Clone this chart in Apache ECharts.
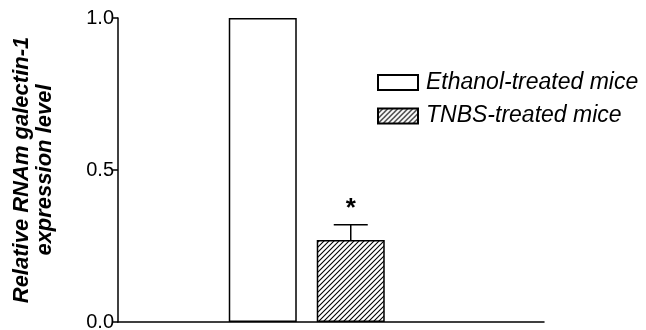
<!DOCTYPE html>
<html>
<head>
<meta charset="utf-8">
<script src="https://cdn.jsdelivr.net/npm/echarts@6/dist/echarts.min.js"></script>
<style>
  html, body { margin: 0; padding: 0; background: #fff; }
  #chart { width: 646px; height: 330px; }
</style>
</head>
<body>
<div id="chart"></div>
<script>
// Relative galectin-1 mRNA expression, ethanol vs TNBS treated mice
const groups = ['Ethanol-treated mice', 'TNBS-treated mice'];
const ethanolValue = [1.0];
const tnbsValue = [0.27];
const tnbsError = [0.05];
const significance = ['*'];
const yTicks = [0, 0.5, 1.0];

const FONT = '"Liberation Sans", Arial, sans-serif';

// diagonal hatch tile for the TNBS bar
function hatchPattern() {
  const s = 5;
  const c = document.createElement('canvas');
  c.width = s; c.height = s;
  const g = c.getContext('2d');
  g.fillStyle = '#fff';
  g.fillRect(0, 0, s, s);
  g.strokeStyle = '#000';
  g.lineWidth = 1.1;
  g.beginPath();
  g.moveTo(-1, s + 1); g.lineTo(s + 1, -1);
  g.moveTo(-1, 1); g.lineTo(1, -1);
  g.moveTo(s - 1, s + 1); g.lineTo(s + 1, s - 1);
  g.stroke();
  return c;
}
const hatch = { image: hatchPattern(), repeat: 'repeat' };

const chart = echarts.init(document.getElementById('chart'), null, { renderer: 'canvas' });

const legendText = { fontFamily: FONT, fontSize: 23, fontStyle: 'italic', color: '#000', lineHeight: 23, padding: [0, 0, 0, 3] };

const option = {
  backgroundColor: '#fff',
  animation: false,
  legend: [
    { data: [groups[0]], left: 377, top: 71, padding: 0, icon: 'rect', itemWidth: 40, itemHeight: 15, textStyle: legendText },
    { data: [groups[1]], left: 377, top: 104.5, padding: 0, icon: 'rect', itemWidth: 40, itemHeight: 15, textStyle: legendText }
  ],
  grid: [
    { left: 118, right: 102, top: 18, bottom: 8, outerBoundsMode: 'none', containLabel: false },
    { left: 118, right: 150.5, top: 18, bottom: 8, outerBoundsMode: 'none', containLabel: false }
  ],
  xAxis: [
    {
      gridIndex: 0, type: 'category', data: [''],
      axisLine: { lineStyle: { color: '#000', width: 1.5 } },
      axisTick: { show: false }, axisLabel: { show: false }, splitLine: { show: false }
    },
    { gridIndex: 1, type: 'category', data: ['group'], show: false }
  ],
  yAxis: [
    {
      gridIndex: 0, type: 'value', min: yTicks[0], max: yTicks[yTicks.length - 1], interval: 0.5,
      name: 'Relative RNAm galectin-1\nexpression level',
      nameLocation: 'middle', nameRotate: 90, nameGap: 62,
      nameTextStyle: { fontFamily: FONT, fontSize: 22, fontWeight: 'bold', fontStyle: 'italic', color: '#000', lineHeight: 23 },
      axisLine: { show: true, lineStyle: { color: '#000', width: 1.5 } },
      axisTick: { show: true, length: 5, lineStyle: { color: '#000', width: 1.5 } },
      axisLabel: { fontFamily: FONT, fontSize: 20, color: '#000', margin: 4, formatter: v => v.toFixed(1) },
      splitLine: { show: false }
    },
    { gridIndex: 1, type: 'value', min: yTicks[0], max: yTicks[yTicks.length - 1], show: false }
  ],
  series: [
    {
      name: groups[0], type: 'bar', xAxisIndex: 1, yAxisIndex: 1,
      data: ethanolValue, barWidth: 68, barGap: '29.4%',
      itemStyle: { color: '#fff', borderColor: '#000', borderWidth: 1.5 }
    },
    {
      name: groups[1], type: 'bar', xAxisIndex: 1, yAxisIndex: 1,
      data: tnbsValue, barWidth: 68, barGap: '29.4%',
      itemStyle: { color: hatch, borderColor: '#000', borderWidth: 1.5 }
    },
    {
      // upward error bar and significance mark on the TNBS bar
      type: 'custom', xAxisIndex: 1, yAxisIndex: 1, z: 5,
      data: tnbsValue.map((v, i) => [0, v, tnbsError[i], significance[i]]),
      renderItem: function (params, api) {
        const v = api.value(1), e = api.value(2);
        const base = api.coord([0, v]);
        const top = api.coord([0, v + e]);
        const x = base[0] + 44; // centre of the second bar in the group
        const half = 17;
        return {
          type: 'group',
          children: [
            { type: 'line', shape: { x1: x, y1: base[1], x2: x, y2: top[1] }, style: { stroke: '#000', lineWidth: 1.5 } },
            { type: 'line', shape: { x1: x - half, y1: top[1], x2: x + half, y2: top[1] }, style: { stroke: '#000', lineWidth: 1.5 } },
            { type: 'text', x: x, y: top[1] - 3, style: { text: significance[0], fontFamily: FONT, fontSize: 26, fontWeight: 'bold', fill: '#000', align: 'center', verticalAlign: 'bottom' } }
          ]
        };
      }
    }
  ]
};
chart.setOption(option);
</script>
</body>
</html>
